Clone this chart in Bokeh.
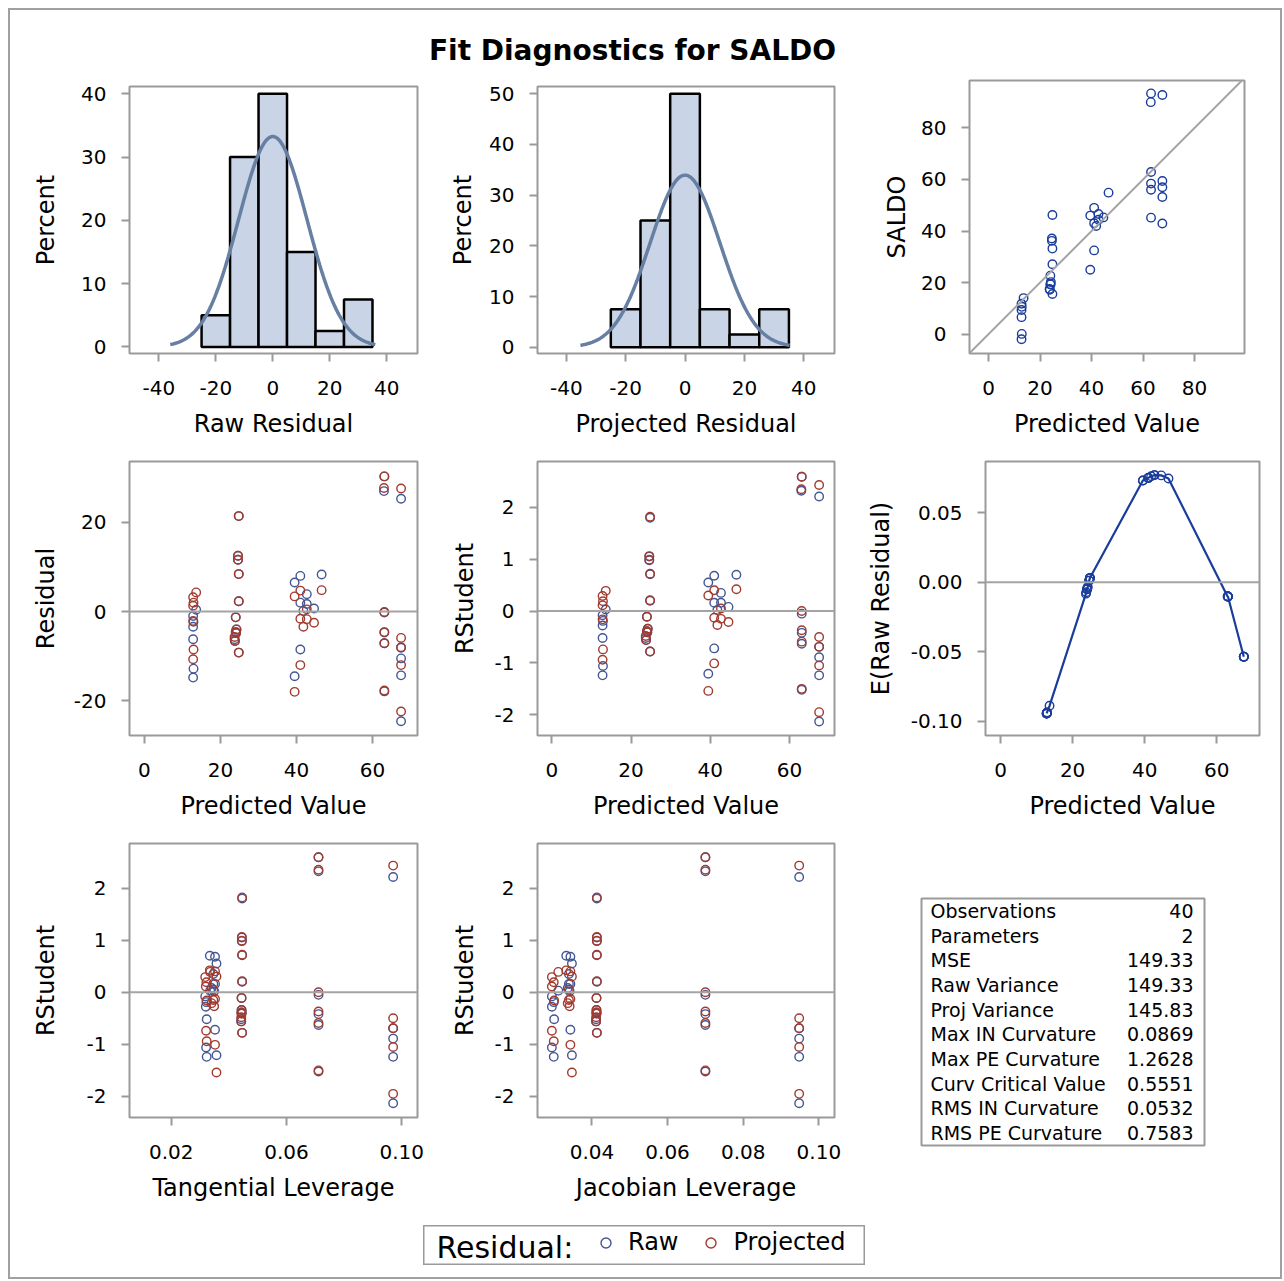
import numpy as np
from bokeh.plotting import figure
from bokeh.models import (Range1d, FixedTicker, PrintfTickFormatter, Span, Slope,
                          Legend, LegendItem, FactorRange, Spacer)
from bokeh.layouts import column, row
from bokeh.core.properties import value
from bokeh.embed import file_html
from bokeh.resources import INLINE

# ---------------- data ----------------
title_text = "Fit Diagnostics for SALDO"

pred_value = [13.6, 12.8, 12.9, 12.8, 12.8, 12.9, 12.8,
              24.8, 24.6, 24.6, 24.8, 24.8, 24.0, 24.2, 24.0, 24.1, 23.7, 23.8, 24.8,
              39.5, 41.0, 42.7, 41.0, 42.7, 41.8, 44.6, 46.6, 41.0, 39.5,
              63.1, 63.0, 63.1, 63.1, 63.1, 63.1,
              67.5, 67.5, 67.5, 67.5, 67.5]
raw_residual = [0.4, -1.0, -2.3, -3.4, -6.2, -12.8, -14.8,
                21.4, 12.5, 11.6, 8.4, 2.3, -1.3, -4.0, -4.6, -4.8, -6.2, -6.6, -9.2,
                6.5, 8.0, 3.9, 2.0, 1.7, 0.15, 0.7, 8.3, -8.5, -14.5,
                30.3, 27.0, -0.2, -4.7, -7.1, -17.9,
                25.3, -8.1, -10.5, -14.3, -24.6]
proj_residual = [4.3, 3.2, 2.0, 1.3, -2.1, -8.5, -10.7,
                 21.4, 12.5, 11.6, 8.4, 2.3, -1.3, -4.0, -4.6, -4.8, -5.7, -6.6, -9.2,
                 3.4, 4.7, 0.5, -1.6, -1.7, -3.4, -2.5, 4.8, -12.0, -18.0,
                 30.3, 27.7, -0.1, -4.6, -7.1, -17.7,
                 27.6, -5.9, -8.0, -12.0, -22.4]
saldo = [14.0, 11.8, 10.6, 9.4, 6.6, 0.1, -2.0,
         46.2, 37.1, 36.2, 33.2, 27.1, 22.7, 20.2, 19.4, 19.3, 17.5, 17.2, 15.6,
         46.0, 49.0, 46.6, 43.0, 44.4, 41.95, 45.3, 54.9, 32.5, 25.0,
         93.4, 90.0, 62.9, 58.4, 56.0, 45.2,
         92.8, 59.4, 57.0, 53.2, 42.9]
rstudent_raw = [0.03, -0.08, -0.19, -0.28, -0.52, -1.06, -1.24,
                1.80, 1.05, 0.98, 0.71, 0.20, -0.11, -0.34, -0.39, -0.41, -0.52, -0.56, -0.78,
                0.55, 0.68, 0.35, 0.16, 0.16, 0.02, 0.08, 0.70, -0.72, -1.21,
                2.59, 2.32, -0.05, -0.42, -0.63, -1.52,
                2.21, -0.69, -0.89, -1.24, -2.13]
rstudent_proj = [0.39, 0.29, 0.19, 0.11, -0.16, -0.74, -0.94,
                 1.82, 1.06, 0.99, 0.72, 0.21, -0.11, -0.34, -0.39, -0.41, -0.48, -0.56, -0.78,
                 0.30, 0.40, 0.05, -0.13, -0.15, -0.27, -0.21, 0.42, -1.01, -1.54,
                 2.59, 2.35, 0.00, -0.37, -0.59, -1.50,
                 2.43, -0.50, -0.69, -1.05, -1.95]
tangential_leverage = [0.0335, 0.0318, 0.0322, 0.0320, 0.0323, 0.0321, 0.0323,
                       0.0446, 0.0445, 0.0445, 0.0446, 0.0446, 0.0444, 0.0444, 0.0444, 0.0444, 0.0443, 0.0443, 0.0446,
                       0.0357, 0.0352, 0.0346, 0.0352, 0.0346, 0.0349, 0.0340, 0.0334, 0.0352, 0.0357,
                       0.0711, 0.0711, 0.0711, 0.0711, 0.0711, 0.0711,
                       0.0970, 0.0970, 0.0970, 0.0970, 0.0970]
jacobian_leverage = [0.0311, 0.0294, 0.0299, 0.0294, 0.0300, 0.0294, 0.0299,
                     0.0413, 0.0413, 0.0413, 0.0413, 0.0413, 0.0412, 0.0412, 0.0412, 0.0412, 0.0411, 0.0411, 0.0413,
                     0.0347, 0.0343, 0.0339, 0.0343, 0.0339, 0.0341, 0.0336, 0.0332, 0.0343, 0.0347,
                     0.0700, 0.0700, 0.0700, 0.0700, 0.0700, 0.0700,
                     0.0948, 0.0948, 0.0948, 0.0948, 0.0948]
expected_raw_residual = [-0.0890, -0.0945, -0.0938, -0.0945, -0.0945, -0.0938, -0.0945,
                         0.0030, 0.0012, 0.0012, 0.0030, 0.0030, -0.0050, -0.0035, -0.0050, -0.0042, -0.0082, -0.0072, 0.0030,
                         0.0733, 0.0752, 0.0772, 0.0752, 0.0772, 0.0764, 0.0770, 0.0748, 0.0752, 0.0733,
                         -0.0103, -0.0103, -0.0103, -0.0103, -0.0103, -0.0103,
                         -0.0536, -0.0536, -0.0536, -0.0536, -0.0536]

hist_mid = [-20, -10, 0, 10, 20, 30]
hist_width = 10
raw_hist_pct = [5.0, 30.0, 40.0, 15.0, 2.5, 7.5]
proj_hist_pct = [7.5, 25.0, 50.0, 7.5, 2.5, 7.5]
raw_norm_mu, raw_norm_sd = 0.0, 12.0
proj_norm_mu, proj_norm_sd = 0.0, 11.75

stat_labels = ["Observations", "Parameters", "MSE", "Raw Variance", "Proj Variance",
               "Max IN Curvature", "Max PE Curvature", "Curv Critical Value",
               "RMS IN Curvature", "RMS PE Curvature"]
stat_values = ["40", "2", "149.33", "149.33", "145.83", "0.0869", "1.2628", "0.5551",
               "0.0532", "0.7583"]

legend_title = "Residual:"
legend_labels = ["Raw", "Projected"]

# ---------------- style ----------------
FONT = "DejaVu Sans"
FRAME = "#9a9a9a"
REF = "#a4a4a4"
BLUE = "#445694"
RED = "#A23A2E"
DARK = "#1a3d9c"
BAR_FILL = "#c9d5e6"
CURVE = "#667fa2"
MSIZE = 8.5
MLW = 1.4


def base_fig(w, h, xr, yr, bl, br, bt, bb, xt, yt, xlabel, ylabel,
             xfmt="%d", yfmt="%d", ystand=15):
    p = figure(width=w, height=h, x_range=Range1d(*xr), y_range=Range1d(*yr),
               toolbar_location=None, output_backend="svg",
               min_border_left=bl, min_border_right=br,
               min_border_top=bt, min_border_bottom=bb)
    p.grid.visible = False
    p.outline_line_color = FRAME
    p.outline_line_width = 2
    p.outline_line_alpha = 1.0
    p.background_fill_color = "white"
    p.border_fill_color = "white"
    for ax, ticks, lab, fmt, st, lst in ((p.xaxis[0], xt, xlabel, xfmt, 12, 19),
                                         (p.yaxis[0], yt, ylabel, yfmt, ystand, 15)):
        ax.ticker = FixedTicker(ticks=ticks)
        ax.formatter = PrintfTickFormatter(format=fmt)
        ax.axis_label = lab
        ax.axis_line_color = None
        ax.major_tick_line_color = FRAME
        ax.major_tick_line_width = 2
        ax.major_tick_out = 8
        ax.major_tick_in = 0
        ax.minor_tick_line_color = None
        ax.major_label_standoff = lst
        ax.major_label_text_font = FONT
        ax.major_label_text_font_size = "20px"
        ax.major_label_text_color = "black"
        ax.axis_label_standoff = st
        ax.axis_label_text_font = FONT
        ax.axis_label_text_font_size = "24px"
        ax.axis_label_text_font_style = "normal"
        ax.axis_label_text_color = "black"
    return p


def zero_line(p):
    p.add_layout(Span(location=0, dimension="width", line_color=REF, line_width=2))


def normal_curve(mu, sd):
    xs = np.linspace(mu - 3 * sd, mu + 3 * sd, 241)
    ys = 100.0 * hist_width / (sd * np.sqrt(2 * np.pi)) * np.exp(-0.5 * ((xs - mu) / sd) ** 2)
    return xs, ys


def raw_proj(p, x_raw, y_raw, x_proj, y_proj):
    p.scatter(x=x_raw, y=y_raw, marker="circle", size=MSIZE, fill_color=None,
              line_color=BLUE, line_width=MLW)
    p.scatter(x=x_proj, y=y_proj, marker="circle", size=MSIZE, fill_color=None,
              line_color=RED, line_width=MLW)


def blank_fig(w, h, outline):
    f = figure(width=w, height=h, x_range=Range1d(0, w), y_range=Range1d(0, h),
               toolbar_location=None, output_backend="svg", min_border=0,
               x_axis_location=None, y_axis_location=None)
    f.grid.visible = False
    f.outline_line_color = outline
    f.outline_line_width = 2
    f.background_fill_color = "white"
    f.border_fill_color = "white"
    return f


# column widths: A 435, B 410, C 425 ; rows: 385, 382, 383
# ---------------- row 1 ----------------
p1 = base_fig(435, 385, (-50.3, 50.8), (-1.04, 41.15), 119, 28, 16, 102,
              [-40, -20, 0, 20, 40], [0, 10, 20, 30, 40], "Raw Residual", "Percent", ystand=18)
p1.vbar(x=hist_mid, width=hist_width, top=raw_hist_pct, bottom=0,
        fill_color=BAR_FILL, line_color="black", line_width=2.5)
cx, cy = normal_curve(raw_norm_mu, raw_norm_sd)
p1.line(cx, cy, line_color=CURVE, line_width=3.5)

p2 = base_fig(410, 385, (-49.7, 50.35), (-1.24, 51.44), 92, 21, 16, 102,
              [-40, -20, 0, 20, 40], [0, 10, 20, 30, 40, 50], "Projected Residual", "Percent",
              ystand=9)
p2.vbar(x=hist_mid, width=hist_width, top=proj_hist_pct, bottom=0,
        fill_color=BAR_FILL, line_color="black", line_width=2.5)
cx, cy = normal_curve(proj_norm_mu, proj_norm_sd)
p2.line(cx, cy, line_color=CURVE, line_width=3.5)

p3 = base_fig(425, 385, (-7.4, 99.4), (-7.5, 98.4), 114, 36, 10, 102,
              [0, 20, 40, 60, 80], [0, 20, 40, 60, 80], "Predicted Value", "SALDO", ystand=7)
p3.add_layout(Slope(gradient=1, y_intercept=0, line_color=REF, line_width=2))
p3.scatter(x=pred_value, y=saldo, marker="circle", size=MSIZE, fill_color=None,
           line_color=DARK, line_width=MLW)

# ---------------- row 2 ----------------
p4 = base_fig(435, 382, (-3.94, 71.82), (-27.78, 33.64), 119, 28, 6, 102,
              [0, 20, 40, 60], [-20, 0, 20], "Predicted Value", "Residual", ystand=11)
zero_line(p4)
raw_proj(p4, pred_value, raw_residual, pred_value, proj_residual)

p5 = base_fig(410, 382, (-3.64, 71.38), (-2.40, 2.884), 92, 21, 6, 102,
              [0, 20, 40, 60], [-2, -1, 0, 1, 2], "Predicted Value", "RStudent", ystand=13)
zero_line(p5)
raw_proj(p5, pred_value, rstudent_raw, pred_value, rstudent_proj)

p6 = base_fig(425, 382, (-4.17, 71.86), (-0.1104, 0.0870), 130, 21, 6, 102,
              [0, 20, 40, 60], [-0.10, -0.05, 0.0, 0.05], "Predicted Value", "E(Raw Residual)",
              yfmt="%.2f", ystand=13)
zero_line(p6)
order = np.argsort(np.array(pred_value), kind="stable")
p6.line(x=np.array(pred_value)[order], y=np.array(expected_raw_residual)[order],
        line_color=DARK, line_width=2.2)
p6.scatter(x=pred_value, y=expected_raw_residual, marker="circle", size=MSIZE,
           fill_color=None, line_color=DARK, line_width=MLW)

# ---------------- row 3 ----------------
p7 = base_fig(435, 383, (0.00552, 0.10545), (-2.404, 2.854), 119, 28, 6, 103,
              [0.02, 0.06, 0.10], [-2, -1, 0, 1, 2], "Tangential Leverage", "RStudent",
              xfmt="%.2f", ystand=24)
zero_line(p7)
raw_proj(p7, tangential_leverage, rstudent_raw, tangential_leverage, rstudent_proj)

p8 = base_fig(410, 383, (0.0256, 0.10414), (-2.404, 2.854), 92, 21, 6, 103,
              [0.04, 0.06, 0.08, 0.10], [-2, -1, 0, 1, 2], "Jacobian Leverage", "RStudent",
              xfmt="%.2f", ystand=13)
zero_line(p8)
raw_proj(p8, jacobian_leverage, rstudent_raw, jacobian_leverage, rstudent_proj)

pt = figure(width=425, height=383, x_range=Range1d(0, 1),
            y_range=FactorRange(factors=stat_labels[::-1]),
            toolbar_location=None, output_backend="svg",
            min_border_left=66, min_border_right=76, min_border_top=61, min_border_bottom=75,
            x_axis_location=None, y_axis_location=None)
pt.grid.visible = False
pt.outline_line_color = FRAME
pt.outline_line_width = 2
pt.text(x=0, y=stat_labels, text=stat_labels, x_offset=9, text_baseline="middle",
        text_align="left", text_font=value(FONT), text_font_size="19px", text_color="black")
pt.text(x=1, y=stat_labels, text=stat_values, x_offset=-11, text_baseline="middle",
        text_align="right", text_font=value(FONT), text_font_size="19px", text_color="black")

# ---------------- title ----------------
tf = blank_fig(1244, 60, None)
tf.text(x=[622], y=[20], text=[title_text], text_align="center", text_baseline="middle",
        text_font=value(FONT), text_font_size="28px", text_font_style="bold",
        text_color="black")

# ---------------- legend ----------------
lf = blank_fig(442, 40, FRAME)
lf.text(x=[13], y=[18.5], text=[legend_title], text_align="left", text_baseline="middle",
        text_font=value(FONT), text_font_size="30px", text_color="black")
r_raw = lf.scatter(x=[-100], y=[-100], marker="circle", size=MSIZE, fill_color=None,
                   line_color=BLUE, line_width=MLW)
r_proj = lf.scatter(x=[-100], y=[-100], marker="circle", size=MSIZE, fill_color=None,
                    line_color=RED, line_width=MLW)
leg = Legend(items=[LegendItem(label=legend_labels[0], renderers=[r_raw]),
                    LegendItem(label=legend_labels[1], renderers=[r_proj])],
             orientation="horizontal", location=(170, 9), glyph_width=25, glyph_height=25,
             label_standoff=10, spacing=20, padding=0, margin=0,
             border_line_color=None, background_fill_alpha=0,
             label_text_font=FONT, label_text_font_size="24px", label_text_color="black")
lf.add_layout(leg)

layout = column(
    tf,
    row(column(p1), column(p2), column(p3)),
    row(column(p4), column(p5), column(p6)),
    row(column(p7), column(p8), column(pt)),
    Spacer(height=5),
    row(Spacer(width=413, height=40), lf),
    Spacer(height=12),
    styles={"border": "2px solid #a0a0a0", "background-color": "white",
            "margin-left": "8px", "margin-top": "8px"},
)

open("out.html", "w").write(file_html(layout, INLINE, title="Fit Diagnostics for SALDO"))
